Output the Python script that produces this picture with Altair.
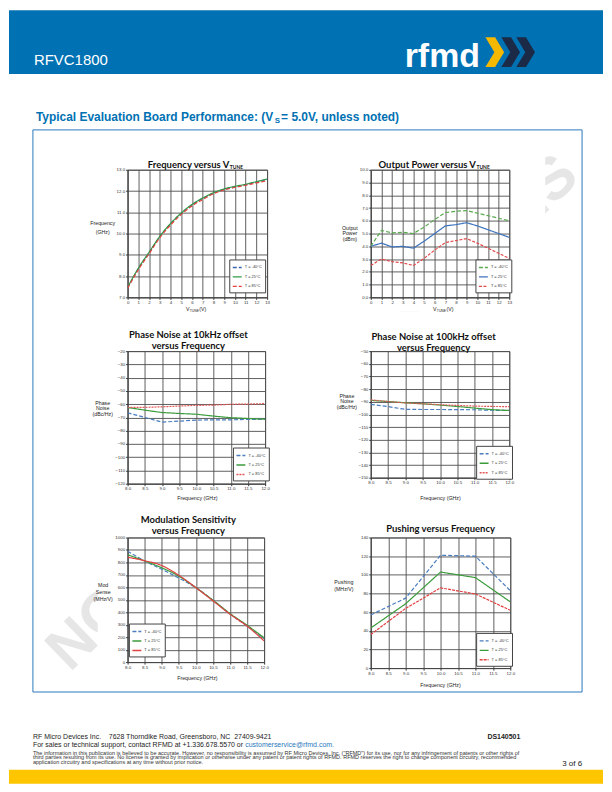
import altair as alt
import pandas as pd

# ---------------- data ----------------
series = ["T = -40°C", "T = 25°C", "T = 85°C"]

vtune_v = [0, 1, 2, 3, 4, 5, 6, 7, 8, 9, 10, 11, 12, 13]
freq_m40 = [7.45, 8.35, 9.10, 9.85, 10.45, 10.95, 11.35, 11.65, 11.90, 12.08, 12.20, 12.30, 12.42, 12.55]
freq_25 = [7.47, 8.37, 9.12, 9.87, 10.47, 10.97, 11.37, 11.67, 11.92, 12.10, 12.22, 12.32, 12.44, 12.56]
freq_85 = [7.42, 8.30, 9.05, 9.80, 10.40, 10.90, 11.30, 11.60, 11.87, 12.05, 12.17, 12.27, 12.38, 12.48]

pout_m40 = [4.0, 5.25, 5.05, 5.10, 5.00, 5.50, 6.10, 6.65, 6.75, 6.80, 6.60, 6.40, 6.20, 6.00]
pout_25 = [4.0, 4.25, 3.95, 4.00, 3.85, 4.40, 5.00, 5.60, 5.70, 5.85, 5.60, 5.30, 5.00, 4.70]
pout_85 = [2.5, 3.00, 2.80, 2.70, 2.50, 3.05, 3.70, 4.30, 4.45, 4.60, 4.25, 3.85, 3.45, 3.05]

freq_ghz = [8.0, 8.5, 9.0, 9.5, 10.0, 10.5, 11.0, 11.5, 12.0]
pn10_m40 = [-66.5, -70.0, -73.5, -72.8, -72.0, -71.8, -71.8, -71.5, -71.5]
pn10_25 = [-62.5, -64.5, -66.3, -67.0, -67.6, -69.0, -70.2, -70.8, -71.3]
pn10_85 = [-62.5, -62.4, -62.0, -61.4, -60.9, -60.7, -60.1, -59.9, -59.6]

pn100_m40 = [-92.0, -93.8, -96.0, -96.1, -96.1, -96.2, -96.3, -96.7, -96.8]
pn100_25 = [-88.9, -89.8, -90.8, -91.6, -92.6, -93.7, -95.0, -96.2, -96.9]
pn100_85 = [-88.5, -89.8, -90.9, -91.6, -92.3, -92.9, -93.4, -93.7, -93.8]

mod_m40 = [890, 812, 745, 675, 598, 497, 386, 290, 188]
mod_25 = [862, 812, 757, 690, 598, 497, 390, 296, 195]
mod_85 = [842, 814, 775, 697, 598, 492, 385, 289, 170]

push_ghz = [8.0, 9.0, 10.0, 11.0, 12.0]
push_m40 = [57, 75, 121, 120, 83]
push_25 = [43, 69, 103, 97, 71]
push_85 = [36, 64, 86, 79.5, 62]

vt_ticks = list(range(14))
f_ticks = [8.0, 8.5, 9.0, 9.5, 10.0, 10.5, 11.0, 11.5, 12.0]
freq_yticks = [7, 8, 9, 10, 11, 12, 13]
pout_yticks = [0, 1, 2, 3, 4, 5, 6, 7, 8, 9, 10]
pn10_yticks = list(range(-120, -19, 10))
pn100_yticks = list(range(-150, -49, 10))
mod_yticks = list(range(0, 1001, 100))
push_yticks = list(range(0, 141, 20))


def long_df(xs, ys_list):
    rows = []
    for s, ys in zip(series, ys_list):
        for x, y in zip(xs, ys):
            rows.append({"x": x, "y": y, "series": s})
    return pd.DataFrame(rows)


# ---------------- text metrics (Arial / Liberation Sans) ----------------
_AR = {" ": 278, "!": 278, '"': 355, "(": 333, ")": 333, "+": 584, ",": 278, "-": 333, ".": 278,
       "/": 278, ":": 278, "=": 584, "@": 1015, "A": 667, "B": 667, "C": 722, "D": 722, "E": 667,
       "F": 611, "G": 778, "H": 722, "I": 278, "J": 500, "K": 667, "L": 556, "M": 833, "N": 722,
       "O": 778, "P": 667, "R": 722, "S": 667, "T": 611, "V": 667, "W": 944, "a": 556, "b": 556,
       "c": 500, "d": 556, "e": 556, "f": 278, "g": 556, "h": 556, "i": 222, "j": 222, "k": 500,
       "l": 222, "m": 833, "n": 556, "o": 556, "p": 556, "q": 556, "r": 333, "s": 500, "t": 278,
       "u": 556, "v": 500, "w": 722, "x": 500, "y": 500, "z": 500, "\u00a0": 278}
_ARB = dict(_AR)
_ARB.update({":": 333, "A": 722, "B": 722, "b": 611, "c": 556, "d": 611, "f": 333, "g": 611, "h": 611,
             "i": 278, "l": 278, "m": 889, "n": 611, "o": 611, "p": 611, "r": 389, "s": 556, "t": 333,
             "u": 611, "v": 556, "y": 556})


def tw(s, size, bold=False):
    tab = _ARB if bold else _AR
    return sum(tab.get(c, 556) for c in s) * size / 1000.0


# ---------------- styling helpers ----------------
FT = "Liberation Sans"
TT = "Lato"
one = pd.DataFrame({"k": [0]})

# plot-area origins (page px) produced by the grid layout below
ORIG = {1: (127, 168), 2: (371, 168), 3: (127, 350), 4: (371, 350), 5: (127, 537), 6: (371, 537)}


def txt(o, x, y, s, size=5.5, align="center", baseline="alphabetic", color="#222",
        weight="normal", font=FT, angle=None, lh=None):
    kw = dict(align=align, baseline=baseline, fontSize=size, color=color,
              fontWeight=weight, font=font)
    if angle is not None:
        kw["angle"] = angle
    if lh is not None:
        kw["lineHeight"] = lh
        kw["lineBreak"] = "\n"
    return alt.Chart(one).mark_text(**kw).encode(
        x=alt.value(x - o[0]), y=alt.value(y - o[1]), text=alt.value(s))


def vrect(o, x1, x2, y1, y2, **mk):
    return alt.Chart(one).mark_rect(**mk).encode(
        x=alt.value(x1 - o[0]), x2=alt.value(x2 - o[0]),
        y=alt.value(y1 - o[1]), y2=alt.value(y2 - o[1]))


AX = dict(title=None, labelFontSize=4.4, labelColor="#333", labelFont=FT, tickSize=2,
          tickColor="#333", domainColor="#444", domainWidth=0.8, gridColor="#4d4d4d",
          gridWidth=0.9, labelPadding=1.0, labelFlush=False, labelOverlap=False)


def panel(idx, df, w, h, xdom, xvals, xfmt, ydom, yvals, yfmt, colors, dashes, interp,
          legend_page, texts, pre=None):
    o = ORIG[idx]
    leg = alt.Legend(orient="none", legendX=legend_page[0] - o[0], legendY=legend_page[1] - o[1],
                     title=None, symbolType="stroke", symbolStrokeWidth=1.4, symbolSize=80,
                     labelFontSize=4.0, labelFont=FT, labelColor="#333", padding=2.5,
                     rowPadding=0.5, fillColor="white", strokeColor="#444", labelOffset=2)
    lines = alt.Chart(df).mark_line(strokeWidth=1.2, interpolate=interp, clip=True).encode(
        x=alt.X("x:Q", scale=alt.Scale(domain=xdom, nice=False, zero=False),
                axis=alt.Axis(values=xvals, format=xfmt, **AX)),
        y=alt.Y("y:Q", scale=alt.Scale(domain=ydom, nice=False, zero=False),
                axis=alt.Axis(values=yvals, format=yfmt, **AX)),
        color=alt.Color("series:N", scale=alt.Scale(domain=series, range=colors), legend=leg),
        strokeDash=alt.StrokeDash("series:N", scale=alt.Scale(domain=series, range=dashes), legend=leg),
    )
    layers = (pre or []) + [lines] + [txt(o, *t[:3], **t[3]) for t in texts]
    return alt.layer(*layers).properties(
        width=w, height=h,
        view=alt.ViewBackground(fill="white", stroke="#4d4d4d", strokeWidth=0.9))


TB = dict(size=9.5, weight="bold", font=TT, color="#111")
TS = dict(size=5.0, weight="bold", font=TT, color="#111", align="left")
YT = dict(size=5.3, baseline="middle", color="#222")
XT = dict(size=5.3, color="#222")

# ---------------- page decorations (drawn inside panel 1's group) ----------------
o1 = ORIG[1]
BLUE = "#0071b3"
FRAME = "#2a78bd"
chev = "M -0.6 -1 L 0.05 -1 L 0.65 0 L 0.05 1 L -0.6 1 L 0 0 Z"


def chevron(x, y, col):
    return alt.Chart(one).mark_point(shape=chev, filled=True, color=col, size=900,
                                     opacity=1, strokeWidth=0).encode(
        x=alt.value(x - o1[0]), y=alt.value(y - o1[1]))


fine1 = ("The information in this publication is believed to be accurate. However, no responsibility is "
         "assumed by RF Micro Devices, Inc. (\"RFMD\") for its use, nor for any infringement of patents or other rights of")
fine2 = ("third parties resulting from its use. No license is granted by implication or otherwise under any "
         "patent or patent rights of RFMD. RFMD reserves the right to change component circuitry, recommended")
fine3 = "application circuitry and specifications at any time without prior notice."
NB = "\u00a0"
addr = "RF Micro Devices Inc." + NB * 4 + "7628 Thorndike Road, Greensboro, NC" + NB * 2 + "27409-9421"
sales = "For sales or technical support, contact RFMD at +1.336.678.5570 or "
email = "customerservice@rfmd.com."

FOOT = 7.0
FINE = round(489.0 / tw(fine1, 1.0), 2)
t_pre = "Typical Evaluation Board Performance: (V"
t_suf = " = 5.0V, unless noted)"
TSZ = 12.0
t_x0 = 35
t_s_x = t_x0 + tw(t_pre, TSZ, True) + 0.3
t_suf_x = t_s_x + tw("S", 8, True) + 1.0

page = [
    vrect(o1, 8, 604, 8, 72, color=BLUE),
    txt(o1, 33, 63, "RFVC1800", size=15, align="left", color="white"),
    txt(o1, 405, 65, "rfmd", size=34, align="left", color="white", weight="bold"),
    chevron(526, 50, "#1b2b47"),
    chevron(511, 50, "#1b2b47"),
    chevron(495, 50, "#f5b800"),
    txt(o1, 313, 412, "NOT FOR NEW DESIGNS", size=60, color="#e6e6e6", weight="bold", angle=316,
        baseline="middle"),
    # white backing of the chart images and of the area outside the frame
    vrect(o1, 97, 546, 310, 691, color="white"),
    vrect(o1, 272, 546, 129, 310, color="white"),
    vrect(o1, 8, 32, 72, 770, color="white"),
    vrect(o1, 583, 604, 72, 770, color="white"),
    vrect(o1, 8, 604, 692, 770, color="white"),
    vrect(o1, 8, 604, 72, 128, color="white"),
    txt(o1, t_x0, 119.5, t_pre, size=TSZ, align="left", color=BLUE, weight="bold"),
    txt(o1, t_s_x, 121.5, "S", size=8, align="left", color=BLUE, weight="bold"),
    txt(o1, t_suf_x, 119.5, t_suf, size=TSZ, align="left", color=BLUE, weight="bold"),
    vrect(o1, 32, 583, 128, 692, fillOpacity=0, stroke=FRAME, strokeWidth=1),
    txt(o1, 32, 739, addr, size=FOOT, align="left", color="#222"),
    txt(o1, 32, 747.5, sales, size=FOOT, align="left", color="#222"),
    txt(o1, 32 + tw(sales, FOOT), 747.5, email, size=FOOT, align="left", color=FRAME),
    txt(o1, 488, 739, "DS140501", size=FOOT, align="left", color="#222", weight="bold"),
    txt(o1, 32, 755, fine1, size=FINE, align="left", color="#333"),
    txt(o1, 32, 759.5, fine2, size=FINE, align="left", color="#333"),
    txt(o1, 32, 764, fine3, size=FINE, align="left", color="#333"),
    txt(o1, 583, 766, "3 of 6", size=8, align="right", color="#222"),
    vrect(o1, 8, 604, 770, 784, color="#ffc600"),
]

# ---------------- panels ----------------
p1 = panel(1, long_df(vtune_v, [freq_m40, freq_25, freq_85]), 140, 128,
           [0, 13], vt_ticks, "d", [7, 13], freq_yticks, ".1f",
           ["#3b66b0", "#2f9a46", "#e5413b"], [[4, 2], [1, 0], [4, 2]], "monotone",
           (229, 258),
           [(229, 166, "Frequency versus V", dict(TB, align="right")),
            (229.5, 167.5, "TUNE", TS),
            (102, 221.5, "Frequency\n(GHz)", dict(YT, lh=9)),
            (189, 309.5, "V", dict(XT, align="right")),
            (189.3, 311, "TUNE", dict(XT, size=3.4, align="left")),
            (199, 309.5, "(V)", dict(XT, align="left"))],
           pre=page)

p2 = panel(2, long_df(vtune_v, [pout_m40, pout_25, pout_85]), 139, 128,
           [0, 13], vt_ticks, "d", [0, 10], pout_yticks, ".1f",
           ["#5aab4e", "#3e73bd", "#e04a4a"], [[4, 2], [1, 0], [3, 1.5]], "linear",
           (476, 258),
           [(476.5, 166, "Output Power versus V", dict(TB, align="right")),
            (477, 167.5, "TUNE", TS),
            (350, 226, "Output\nPower\n(dBm)", dict(YT, lh=5.8)),
            (437, 309.5, "V", dict(XT, align="right")),
            (437.3, 311, "TUNE", dict(XT, size=3.4, align="left")),
            (447, 309.5, "(V)", dict(XT, align="left"))])

p3 = panel(3, long_df(freq_ghz, [pn10_m40, pn10_25, pn10_85]), 138, 133,
           [8, 12], f_ticks, ".1f", [-120, -20], pn10_yticks, "d",
           ["#4a7dbf", "#3c9c3c", "#e05656"], [[4, 2], [1, 0], [2, 1]], "linear",
           (232.7, 446.7),
           [(188, 336.5, "Phase Noise at 10kHz offset", TB),
            (188, 347.5, "versus  Frequency", TB),
            (102, 402, "Phase\nNoise\n(dBc/Hz)", dict(YT, lh=5.5)),
            (197, 499, "Frequency (GHz)", XT)])

p4 = panel(4, long_df(freq_ghz, [pn100_m40, pn100_25, pn100_85]), 139, 127,
           [8, 12], f_ticks, ".1f", [-150, -50], pn100_yticks, "d",
           ["#4a7dbf", "#3c9c3c", "#e05656"], [[4, 2], [1, 0], [2, 1]], "linear",
           (476.7, 445),
           [(434, 338.5, "Phase Noise at 100kHz offset", TB),
            (434, 349.5, "versus  Frequency", TB),
            (347, 395, "Phase\nNoise\n(dBc/Hz)", dict(YT, lh=5.5)),
            (441, 499, "Frequency (GHz)", XT)])

p5 = panel(5, long_df(freq_ghz, [mod_m40, mod_25, mod_85]), 137, 125,
           [8, 12], f_ticks, ".1f", [0, 1000], mod_yticks, "d",
           ["#4a7dbf", "#3c9c3c", "#e04040"], [[4, 2], [1, 0], [1, 0]], "monotone",
           (128.3, 623.3),
           [(188, 522.5, "Modulation Sensitivity", TB),
            (188, 533, "versus  Frequency", TB),
            (102.5, 585, "Mod\nSense\n(MHz/V)", dict(YT, lh=7)),
            (197, 680, "Frequency (GHz)", XT)])

p6 = panel(6, long_df(push_ghz, [push_m40, push_25, push_85]), 140, 131,
           [8, 12], f_ticks, ".1f", [0, 140], push_yticks, "d",
           ["#4a7dbf", "#3c9c3c", "#e04040"], [[4, 2], [1, 0], [3, 1]], "linear",
           (476.7, 632.7),
           [(441, 531, "Pushing versus Frequency", TB),
            (344, 581.5, "Pushing\n(MHz/V)", dict(YT, lh=7)),
            (441, 687, "Frequency (GHz)", XT)])

chart = alt.concat(p1, p2, p3, p4, p5, p6, columns=2,
                   spacing=alt.RowColnumber(row=54, column=104),
                   bounds="flush", align="each").resolve_scale(
    color="independent", strokeDash="independent").resolve_legend(
    color="independent", strokeDash="independent").properties(padding=0, background="white")

chart.save("out.html", embed_options={"renderer": "svg", "actions": False})
